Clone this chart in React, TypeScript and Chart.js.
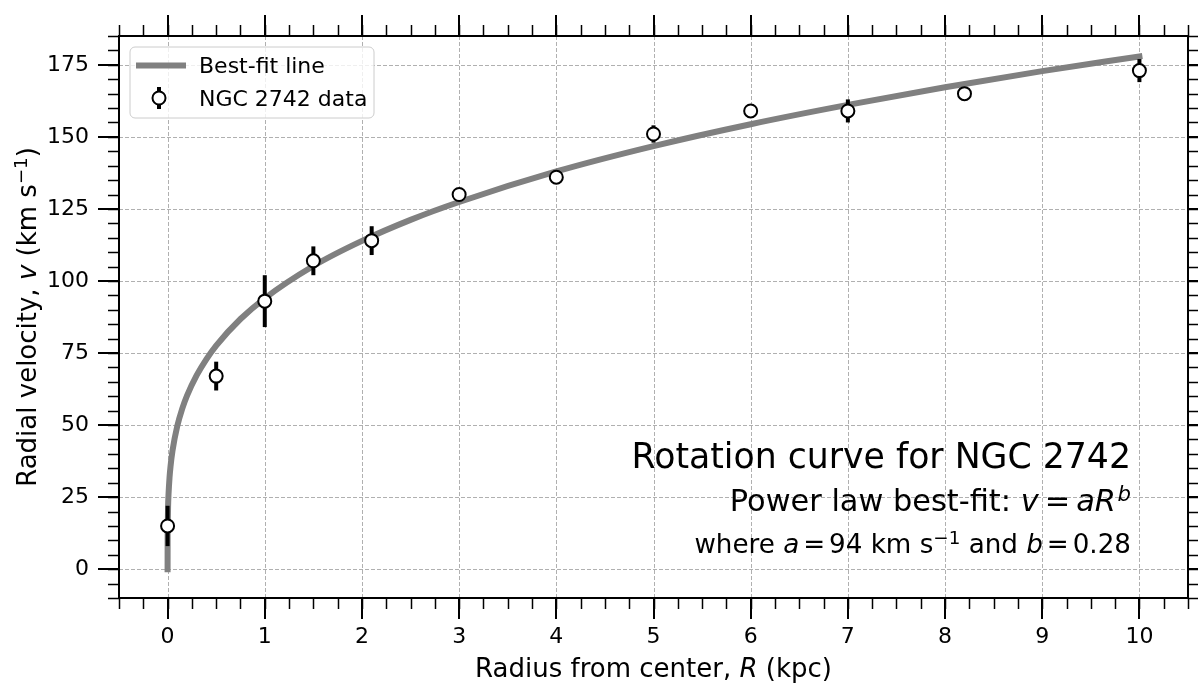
import React, { useEffect, useRef } from "react";
import { Chart, registerables } from "chart.js";

Chart.register(...registerables);

// ---- data ----
const R_DATA = [0, 0.5, 1, 1.5, 2.1, 3, 4, 5, 6, 7, 8.2, 10];
const V_DATA = [15, 67, 93, 107, 114, 130, 136, 151, 159, 159, 165, 173];
const V_ERR = [7, 5, 9, 5, 5, 1.5, 1.5, 3, 1.5, 4, 1.5, 4];

// best-fit curve samples (v = a R^b, a = 94, b = 0.28)
const FIT_R = [0, 0.0002, 0.001, 0.005, 0.01, 0.02, 0.03, 0.05, 0.1, 0.15, 0.2, 0.3, 0.4, 0.5, 0.75, 1, 1.5, 2, 2.5, 3, 4, 5, 6, 7, 8, 9, 10];
const FIT_V = [0, 8.9, 13.9, 21.7, 26.2, 31.8, 35.6, 41.0, 49.7, 55.6, 60.2, 67.3, 72.9, 77.6, 86.8, 94, 105.2, 113.9, 121.2, 127.4, 138.0, 146.8, 154.4, 161.1, 167.2, 172.8, 177.9];

const X_TICKS = [0, 1, 2, 3, 4, 5, 6, 7, 8, 9, 10];
const Y_TICKS = [0, 25, 50, 75, 100, 125, 150, 175];
const X_LIMITS = [-0.5, 10.5];
const Y_LIMITS = [-10, 185];
const X_MINOR_STEP = 0.25;
const Y_MINOR_STEP = 5;

const LEGEND_LABELS = ["Best-fit line", "NGC 2742 data"];

const FONT = '"DejaVu Sans", "Noto Sans", sans-serif';

type Run = { t: string; it?: boolean; sup?: boolean; gl?: number; gr?: number };

const TITLE_RUNS: Run[] = [{ t: "Rotation curve for NGC 2742" }];
const LINE2_RUNS: Run[] = [
  { t: "Power law best-fit: " },
  { t: "v", it: true },
  { t: "=", gl: 0.2, gr: 0.2 },
  { t: "aR", it: true },
  { t: "b", it: true, sup: true, gl: 0.05 },
];
const LINE3_RUNS: Run[] = [
  { t: "where " },
  { t: "a", it: true },
  { t: "=", gl: 0.15, gr: 0.15 },
  { t: "94 km s" },
  { t: "\u22121", sup: true },
  { t: " and " },
  { t: "b", it: true },
  { t: "=", gl: 0.15, gr: 0.15 },
  { t: "0.28" },
];
const XLABEL_RUNS: Run[] = [{ t: "Radius from center, " }, { t: "R", it: true }, { t: " (kpc)" }];
const YLABEL_RUNS: Run[] = [
  { t: "Radial velocity, " },
  { t: "v", it: true },
  { t: " (km s" },
  { t: "\u22121", sup: true },
  { t: ")" },
];

function runFont(r: Run, size: number) {
  const s = r.sup ? size * 0.7 : size;
  return `${r.it ? "italic " : ""}${s}px ${FONT}`;
}

function measureRuns(ctx: CanvasRenderingContext2D, runs: Run[], size: number) {
  let w = 0;
  for (const r of runs) {
    ctx.font = runFont(r, size);
    w += ctx.measureText(r.t).width + ((r.gl || 0) + (r.gr || 0)) * size;
  }
  return w;
}

function drawRuns(ctx: CanvasRenderingContext2D, runs: Run[], size: number, x: number, y: number, align: "left" | "center" | "right") {
  const w = measureRuns(ctx, runs, size);
  let cx = align === "right" ? x - w : align === "center" ? x - w / 2 : x;
  ctx.textAlign = "left";
  ctx.textBaseline = "alphabetic";
  ctx.fillStyle = "#000";
  for (const r of runs) {
    ctx.font = runFont(r, size);
    cx += (r.gl || 0) * size;
    ctx.fillText(r.t, cx, r.sup ? y - size * 0.33 : y);
    cx += ctx.measureText(r.t).width + (r.gr || 0) * size;
  }
}

const decorPlugin = {
  id: "decor",
  beforeDatasetsDraw(chart: any) {
    const { ctx, chartArea: a, scales } = chart;
    const xs = scales.x, ys = scales.y;
    ctx.save();
    ctx.strokeStyle = "#b0b0b0";
    ctx.lineWidth = 1;
    ctx.setLineDash([4, 2]);
    for (const v of X_TICKS) {
      const px = Math.round(xs.getPixelForValue(v)) + 0.5;
      ctx.beginPath();
      ctx.moveTo(px, a.top);
      ctx.lineTo(px, a.bottom);
      ctx.stroke();
    }
    for (const v of Y_TICKS) {
      const py = Math.round(ys.getPixelForValue(v)) + 0.5;
      ctx.beginPath();
      ctx.moveTo(a.left, py);
      ctx.lineTo(a.right, py);
      ctx.stroke();
    }
    ctx.restore();
  },
  beforeDatasetDraw(chart: any, args: any) {
    if (args.index !== 1) return;
    const { ctx, scales } = chart;
    const xs = scales.x, ys = scales.y;
    ctx.save();
    ctx.strokeStyle = "#000";
    ctx.lineWidth = 4;
    ctx.lineCap = "butt";
    for (let i = 0; i < R_DATA.length; i++) {
      const px = xs.getPixelForValue(R_DATA[i]);
      ctx.beginPath();
      ctx.moveTo(px, ys.getPixelForValue(V_DATA[i] - V_ERR[i]));
      ctx.lineTo(px, ys.getPixelForValue(V_DATA[i] + V_ERR[i]));
      ctx.stroke();
    }
    ctx.restore();
  },
  afterDraw(chart: any) {
    const { ctx, chartArea: a, scales } = chart;
    const xs = scales.x, ys = scales.y;
    ctx.save();
    ctx.setLineDash([]);
    ctx.strokeStyle = "#000";
    // minor ticks
    ctx.lineWidth = 1.5;
    const nx = Math.round((X_LIMITS[1] - X_LIMITS[0]) / X_MINOR_STEP);
    for (let i = 0; i <= nx; i++) {
      const v = X_LIMITS[0] + i * X_MINOR_STEP;
      const px = Math.round(xs.getPixelForValue(v)) + 0.5;
      ctx.beginPath();
      ctx.moveTo(px, a.bottom); ctx.lineTo(px, a.bottom + 11);
      ctx.moveTo(px, a.top); ctx.lineTo(px, a.top - 11);
      ctx.stroke();
    }
    const ny = Math.round((Y_LIMITS[1] - Y_LIMITS[0]) / Y_MINOR_STEP);
    for (let i = 0; i <= ny; i++) {
      const v = Y_LIMITS[0] + i * Y_MINOR_STEP;
      const py = Math.round(ys.getPixelForValue(v)) + 0.5;
      ctx.beginPath();
      ctx.moveTo(a.left, py); ctx.lineTo(a.left - 11, py);
      ctx.moveTo(a.right, py); ctx.lineTo(a.right + 11, py);
      ctx.stroke();
    }
    // major ticks
    ctx.lineWidth = 2;
    for (const v of X_TICKS) {
      const px = Math.round(xs.getPixelForValue(v));
      ctx.beginPath();
      ctx.moveTo(px, a.bottom); ctx.lineTo(px, a.bottom + 21);
      ctx.moveTo(px, a.top); ctx.lineTo(px, a.top - 21);
      ctx.stroke();
    }
    for (const v of Y_TICKS) {
      const py = Math.round(ys.getPixelForValue(v));
      ctx.beginPath();
      ctx.moveTo(a.left, py); ctx.lineTo(a.left - 21, py);
      ctx.moveTo(a.right, py); ctx.lineTo(a.right + 21, py);
      ctx.stroke();
    }
    // spines
    ctx.lineWidth = 2;
    ctx.strokeRect(a.left, a.top, a.right - a.left, a.bottom - a.top);

    // legend
    const lx = 130, ly = 47, lw = 244, lh = 71, rr = 5;
    ctx.beginPath();
    ctx.moveTo(lx + rr, ly);
    ctx.arcTo(lx + lw, ly, lx + lw, ly + lh, rr);
    ctx.arcTo(lx + lw, ly + lh, lx, ly + lh, rr);
    ctx.arcTo(lx, ly + lh, lx, ly, rr);
    ctx.arcTo(lx, ly, lx + lw, ly, rr);
    ctx.closePath();
    ctx.fillStyle = "rgba(255,255,255,0.8)";
    ctx.fill();
    ctx.strokeStyle = "#cccccc";
    ctx.lineWidth = 1;
    ctx.stroke();

    ctx.strokeStyle = "#808080";
    ctx.lineWidth = 6;
    ctx.lineCap = "butt";
    ctx.beginPath();
    ctx.moveTo(136, 65.5); ctx.lineTo(186, 65.5);
    ctx.stroke();

    ctx.strokeStyle = "#000";
    ctx.lineWidth = 4;
    ctx.beginPath();
    ctx.moveTo(159, 87); ctx.lineTo(159, 109);
    ctx.stroke();
    ctx.lineWidth = 2;
    ctx.fillStyle = "#fff";
    ctx.beginPath();
    ctx.arc(159, 98, 6.5, 0, Math.PI * 2);
    ctx.fill();
    ctx.stroke();

    ctx.fillStyle = "#000";
    ctx.font = `22px ${FONT}`;
    ctx.textAlign = "left";
    ctx.textBaseline = "alphabetic";
    ctx.fillText(LEGEND_LABELS[0], 199, 73);
    ctx.fillText(LEGEND_LABELS[1], 199, 106);

    // annotation text
    drawRuns(ctx, TITLE_RUNS, 34.7, 1131, 468, "right");
    drawRuns(ctx, LINE2_RUNS, 30.4, 1131, 511, "right");
    drawRuns(ctx, LINE3_RUNS, 26.2, 1131, 553, "right");

    // axis labels
    drawRuns(ctx, XLABEL_RUNS, 26, (a.left + a.right) / 2, 677, "center");
    ctx.translate(36, (a.top + a.bottom) / 2);
    ctx.rotate(-Math.PI / 2);
    drawRuns(ctx, YLABEL_RUNS, 26, 0, 0, "center");
    ctx.restore();
  },
};

export default function App() {
  const ref = useRef<HTMLCanvasElement | null>(null);
  useEffect(() => {
    const canvas = ref.current;
    if (!canvas) return;
    Chart.defaults.font.family = FONT;
    const chart = new Chart(canvas, {
      type: "scatter",
      data: {
        datasets: [
          {
            label: LEGEND_LABELS[0],
            data: FIT_R.map((r, i) => ({ x: r, y: FIT_V[i] })),
            showLine: true,
            borderColor: "#808080",
            borderWidth: 6,
            borderCapStyle: "square",
            borderJoinStyle: "round",
            cubicInterpolationMode: "monotone",
            pointRadius: 0,
            pointHoverRadius: 0,
            fill: false,
            order: 2,
          } as any,
          {
            label: LEGEND_LABELS[1],
            data: R_DATA.map((r, i) => ({ x: r, y: V_DATA[i] })),
            showLine: false,
            pointRadius: 6.5,
            pointBorderWidth: 2,
            pointBackgroundColor: "#ffffff",
            pointBorderColor: "#000000",
            order: 1,
          } as any,
        ],
      },
      options: {
        responsive: false,
        devicePixelRatio: 1,
        animation: false,
        events: [],
        layout: { padding: { top: 36, right: 10, left: 0, bottom: 0 } },
        plugins: { legend: { display: false }, tooltip: { enabled: false }, title: { display: false } },
        scales: {
          x: {
            type: "linear",
            position: "bottom",
            min: X_LIMITS[0],
            max: X_LIMITS[1],
            afterBuildTicks: (axis: any) => {
              axis.ticks = X_TICKS.map((v) => ({ value: v }));
            },
            afterFit: (scale: any) => {
              scale.height = 85;
              scale.paddingLeft = 0;
              scale.paddingRight = 0;
            },
            grid: { display: false, drawTicks: false },
            border: { display: false },
            ticks: { autoSkip: false, maxRotation: 0, padding: 26, color: "#000", font: { size: 22, family: FONT } },
          },
          y: {
            type: "linear",
            position: "left",
            min: Y_LIMITS[0],
            max: Y_LIMITS[1],
            afterBuildTicks: (axis: any) => {
              axis.ticks = Y_TICKS.map((v) => ({ value: v }));
            },
            afterFit: (scale: any) => {
              scale.width = 119;
              scale.paddingTop = 0;
              scale.paddingBottom = 0;
            },
            grid: { display: false, drawTicks: false },
            border: { display: false },
            ticks: { autoSkip: false, padding: 30, color: "#000", font: { size: 22, family: FONT } },
          },
        },
      },
      plugins: [decorPlugin],
    });
    return () => chart.destroy();
  }, []);
  return (
    <div style={{ position: "fixed", left: 0, top: 0, width: 1198, height: 683, background: "#fff" }}>
      <canvas ref={ref} width={1198} height={683} style={{ display: "block", width: 1198, height: 683 }} />
    </div>
  );
}
